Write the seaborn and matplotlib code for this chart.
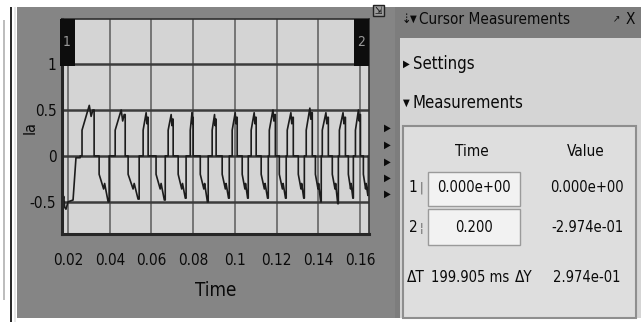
import matplotlib
matplotlib.use("Agg")
import matplotlib.pyplot as plt
from matplotlib.patches import Rectangle
import seaborn as sns
import pandas as pd

# ---- phase current trace (time in s, current in A) ----
# start-up segment before the first positive pulse
init_t = [0.0171, 0.0175, 0.0179, 0.0184, 0.0190, 0.0200, 0.0224, 0.0238, 0.0258, 0.0258, 0.0267]
init_v = [-0.40, -0.50, -0.44, -0.56, -0.58, -0.50, -0.48, -0.02, -0.02, 0.0, 0.0]

# positive conduction pulses: switch-on, switch-off and peak value
pos_on = [0.0267, 0.0426, 0.0560, 0.0680, 0.0786, 0.0891, 0.0987, 0.1078, 0.1165, 0.1251, 0.1342, 0.1419, 0.1501, 0.1578]
pos_off = [0.0325, 0.0474, 0.0584, 0.0704, 0.0800, 0.0910, 0.1011, 0.1102, 0.1194, 0.1280, 0.1371, 0.1448, 0.1530, 0.1602]
pos_pk = [0.55, 0.50, 0.47, 0.45, 0.47, 0.45, 0.47, 0.47, 0.50, 0.47, 0.52, 0.47, 0.47, 0.50]

# negative conduction pulses
neg_on = [0.0349, 0.0488, 0.0622, 0.0728, 0.0834, 0.0939, 0.1035, 0.1126, 0.1213, 0.1304, 0.1386, 0.1467, 0.1544, 0.1616]
neg_off = [0.0397, 0.0541, 0.0666, 0.0766, 0.0872, 0.0973, 0.1064, 0.1160, 0.1246, 0.1333, 0.1414, 0.1496, 0.1568, 0.1640]
neg_pk = [-0.50, -0.47, -0.48, -0.46, -0.50, -0.46, -0.46, -0.46, -0.46, -0.46, -0.50, -0.52, -0.46, -0.43]

x_ticks = [0.02, 0.04, 0.06, 0.08, 0.1, 0.12, 0.14, 0.16]
x_tick_labels = ["0.02", "0.04", "0.06", "0.08", "0.1", "0.12", "0.14", "0.16"]
y_ticks = [-0.5, 0, 0.5, 1]
y_tick_labels = ["-0.5", "0", "0.5", "1"]
x_range = [0.0171, 0.1643]
y_range = [-0.85, 1.49]

# cursor measurement readout
cursor_time = ["0.000e+00", "0.200"]
cursor_value = ["0.000e+00", "-2.974e-01"]
delta_t = "199.905 ms"
delta_y = "2.974e-01"

# build the stepped waveform from the pulse table
t_pts = list(init_t)
v_pts = list(init_v)
for a, b, pk, c, d, nk in zip(pos_on, pos_off, pos_pk, neg_on, neg_off, neg_pk):
    w = b - a
    t_pts += [a, a, a + 0.6 * w, a + 0.75 * w, a + 0.9 * w, b, b]
    v_pts += [0.0, 0.28, pk, pk - 0.12, pk - 0.05, pk - 0.05, 0.0]
    w = d - c
    t_pts += [c, c, c + 0.45 * w, c + 0.55 * w, c + 0.9 * w, d, d]
    v_pts += [0.0, -0.2, -0.36, -0.3, nk, nk, 0.0]
t_pts.append(x_range[1])
v_pts.append(0.0)
trace = pd.DataFrame({"Time": t_pts, "Ia": v_pts})

sns.set_theme(style="white")
plt.rcParams["font.family"] = ["DejaVu Sans"]
plt.rcParams["font.stretch"] = "condensed"

W, H = 641, 322
fig = plt.figure(figsize=(W / 100, H / 100), dpi=100)
fig.patch.set_facecolor("white")


def frect(x0, y0, x1, y1, **kw):
    """Rectangle given in pixel coordinates (origin top-left)."""
    r = Rectangle((x0 / W, 1 - y1 / H), (x1 - x0) / W, (y1 - y0) / H,
                  transform=fig.transFigure, **kw)
    fig.add_artist(r)
    return r


def ftext(x, y, s, **kw):
    kw.setdefault("color", "#0a0a0a")
    kw.setdefault("va", "center")
    kw.setdefault("fontstretch", "condensed")
    return fig.text(x / W, 1 - y / H, s, **kw)


# scope window background
frect(17, 7, 396, 318, facecolor="#858585", edgecolor="none", zorder=-5)
frect(10, 7, 12, 322, facecolor="#2a2a2a", edgecolor="none", zorder=-4)
frect(14, 7, 16, 322, facecolor="#e8e8e8", edgecolor="none", zorder=-4)
frect(3, 20, 5, 300, facecolor="#bdbdbd", edgecolor="none", zorder=-4)

# cursor measurement panel
frect(395, 7, W, 318, facecolor="#7d7d7d", edgecolor="none", zorder=-5)
frect(400, 38, W, 318, facecolor="#d5d5d5", edgecolor="none", zorder=-4)
frect(403, 126, 636, 318, facecolor="#dedede", edgecolor="#8e8e8e", lw=1.5, zorder=-3)
frect(428, 172, 520, 206, facecolor="#f2f2f2", edgecolor="#9a9a9a", lw=1.0, zorder=-2)
frect(428, 209, 520, 245, facecolor="#f2f2f2", edgecolor="#9a9a9a", lw=1.0, zorder=-2)

# plot axes
ax = fig.add_axes([62 / W, 1 - 234 / H, (369 - 62) / W, (234 - 19) / H])
ax.set_facecolor("#d4d4d4")
sns.lineplot(data=trace, x="Time", y="Ia", sort=False, estimator=None,
             color="#1c1c1c", lw=1.2, ax=ax)
ax.set_xlim(x_range)
ax.set_ylim(y_range)
ax.set_xticks(x_ticks)
ax.set_xticklabels(x_tick_labels)
ax.set_yticks(y_ticks)
ax.set_yticklabels(y_tick_labels)
ax.xaxis.grid(True, color="#6e6e6e", lw=1.3)
ax.yaxis.grid(True, color="#3c3c3c", lw=1.8)
ax.set_axisbelow(True)
ax.tick_params(length=0, labelsize=11, labelcolor="#0a0a0a", pad=14)
ax.tick_params(axis="y", pad=4)
ax.set_xlabel("Time", fontsize=13.5, color="#0a0a0a", labelpad=9)
ax.set_ylabel("")
for side in ["left", "bottom"]:
    ax.spines[side].set_color("#262626")
    ax.spines[side].set_linewidth(2.2)
for side in ["top", "right"]:
    ax.spines[side].set_color("#303030")
    ax.spines[side].set_linewidth(1.2)
ftext(30, 128, "Ia", ha="center", rotation=90, fontsize=11.5)

# cursor flags
frect(60, 19, 75, 66, facecolor="#0d0d0d", edgecolor="none", zorder=5)
frect(354, 19, 369, 66, facecolor="#0d0d0d", edgecolor="none", zorder=5)
ftext(67, 42, "1", color="#9a9a9a", ha="center", fontsize=10, zorder=6)
ftext(361, 42, "2", color="#9a9a9a", ha="center", fontsize=10, zorder=6)

# small toolbar glyphs on the scope frame
frect(373, 5, 384, 16, facecolor="#9a9a9a", edgecolor="#222222", lw=1.0, zorder=5)
ftext(378.5, 11, "⇲", ha="center", fontsize=7, zorder=6)
for yy in [128, 145, 162, 178, 194]:
    ftext(387, yy, "▶", ha="center", fontsize=7)

# panel header and sections
ftext(402, 19, "⇣", fontsize=9)
ftext(410, 19, "▼", fontsize=7)
ftext(419, 19, "Cursor Measurements", fontsize=11)
ftext(613, 19, "↗", fontsize=7)
ftext(626, 19, "X", fontsize=11)
ftext(403, 64, "▶", fontsize=7)
ftext(413, 64, "Settings", fontsize=12)
ftext(403, 103, "▼", fontsize=7)
ftext(413, 103, "Measurements", fontsize=12)

# measurement table
ftext(472, 152, "Time", ha="center", fontsize=11)
ftext(586, 152, "Value", ha="center", fontsize=11)
for yy, idx, t_s, v_s in [(188, "1", cursor_time[0], cursor_value[0]),
                          (228, "2", cursor_time[1], cursor_value[1])]:
    ftext(413, yy, idx, ha="center", fontsize=11)
    ftext(421, yy, "¦" if idx == "2" else "|", ha="center", fontsize=9, color="#555555")
    ftext(474, yy, t_s, ha="center", fontsize=10.5)
    ftext(587, yy, v_s, ha="center", fontsize=10.5)
ftext(416, 277, "ΔT", ha="center", fontsize=11)
ftext(470, 277, delta_t, ha="center", fontsize=10.5)
ftext(524, 277, "ΔY", ha="center", fontsize=11)
ftext(587, 277, delta_y, ha="center", fontsize=10.5)

fig.savefig("out.png", dpi=100, facecolor=fig.get_facecolor())
